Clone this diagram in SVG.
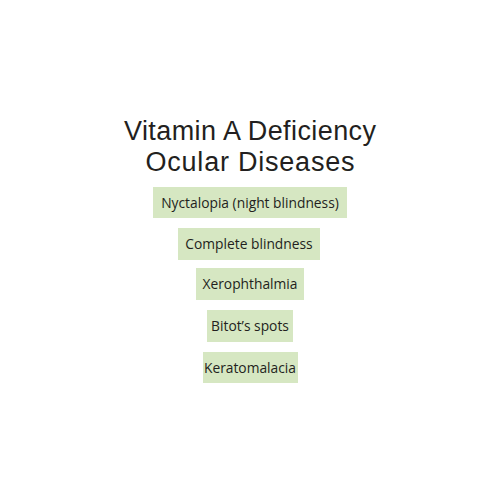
<svg xmlns="http://www.w3.org/2000/svg" width="500" height="500" viewBox="0 0 500 500">
<style>
.t{font-family:"Open Sans","Noto Sans",sans-serif;fill:#231f20;text-anchor:middle}
.title{font-family:"Liberation Sans",Arial,sans-serif;font-size:27px}
.lbl{font-size:13.8px}
.box{fill:#d6e7c2}
</style>
<rect width="500" height="500" fill="#ffffff"/>
<g id="title">
<text class="t title" x="250" y="140" textLength="252">Vitamin A Deficiency</text>
<text class="t title" x="250" y="171" textLength="209">Ocular Diseases</text>
</g>
<g id="n1"><rect class="box" x="153" y="187" width="194" height="31"/><text class="t lbl" x="250" y="207.5">Nyctalopia (night blindness)</text></g>
<g id="n2"><rect class="box" x="178" y="228" width="142" height="32"/><text class="t lbl" x="249" y="248.5">Complete blindness</text></g>
<g id="n3"><rect class="box" x="196" y="268" width="108" height="32"/><text class="t lbl" x="250" y="288.5">Xerophthalmia</text></g>
<g id="n4"><rect class="box" x="207" y="310" width="86" height="32"/><text class="t lbl" x="250" y="330.5">Bitot’s spots</text></g>
<g id="n5"><rect class="box" x="203" y="352" width="95" height="31"/><text class="t lbl" x="250" y="372.5">Keratomalacia</text></g>
<g id="connectors"/>
</svg>
